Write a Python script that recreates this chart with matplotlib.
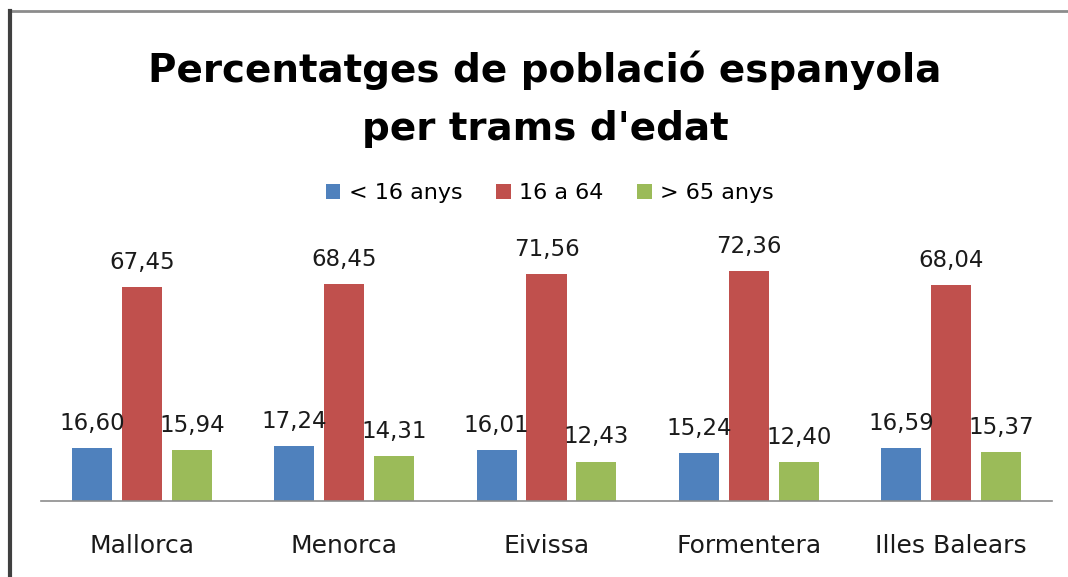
import matplotlib
matplotlib.use("Agg")
import matplotlib.pyplot as plt
import numpy as np

# data
illes = ["Mallorca", "Menorca", "Eivissa", "Formentera", "Illes Balears"]
menys_16 = [16.60, 17.24, 16.01, 15.24, 16.59]
de_16_a_64 = [67.45, 68.45, 71.56, 72.36, 68.04]
mes_65 = [15.94, 14.31, 12.43, 12.40, 15.37]
series_noms = ["< 16 anys", "16 a 64", "> 65 anys"]
colors = ["#4F81BD", "#C0504D", "#9BBB59"]

W, H = 1068, 577
fig = plt.figure(figsize=(W / 100, H / 100), dpi=100)
fig.patch.set_facecolor("white")

ax = fig.add_axes([41 / W, 76 / H, 1011 / W, 254 / H])
x = np.arange(len(illes))
amplada = 0.198
pas = 0.247
series = [menys_16, de_16_a_64, mes_65]
barres = []
for i, (vals, nom, col) in enumerate(zip(series, series_noms, colors)):
    b = ax.bar(x + (i - 1) * pas, vals, width=amplada, color=col, label=nom)
    barres.append(b)
    for xi, v in zip(x + (i - 1) * pas, vals):
        ax.annotate(f"{v:.2f}".replace(".", ","), (xi, v), xytext=(0, 13),
                    textcoords="offset points", ha="center", va="baseline",
                    fontsize=16.5, color="#1a1a1a")

ax.set_xlim(-0.5, len(illes) - 0.5)
ax.set_ylim(0, 80)
ax.set_yticks([])
ax.set_xticks(x)
ax.set_xticklabels(illes, fontsize=18, color="#1a1a1a", va="baseline")
ax.tick_params(axis="x", length=0, pad=37.4)
for s in ["top", "right", "left"]:
    ax.spines[s].set_visible(False)
ax.spines["bottom"].set_color("#8c8c8c")
ax.spines["bottom"].set_linewidth(1.2)

# títol en dues línies
fig.text(545 / W, 1 - 82 / H, "Percentatges de població espanyola",
         ha="center", va="baseline", fontsize=28, fontweight="bold")
fig.text(545 / W, 1 - 140 / H, "per trams d'edat",
         ha="center", va="baseline", fontsize=28, fontweight="bold")

fig.legend(handles=barres, labels=series_noms, loc="center",
           bbox_to_anchor=(550 / W, 1 - 193 / H), ncol=3, frameon=False,
           fontsize=16, handlelength=0.65, handleheight=0.65, columnspacing=1.5,
           handletextpad=0.4)

# marc de la figura: línia superior i esquerra
fig.add_artist(plt.Line2D([9.5 / W, 1], [1 - 11 / H, 1 - 11 / H],
                          transform=fig.transFigure, color="#8c8c8c", lw=2))
fig.add_artist(plt.Line2D([9.5 / W, 9.5 / W], [0, 1 - 11 / H],
                          transform=fig.transFigure, color="#404040", lw=3))

fig.savefig("out.png", dpi=100, facecolor="white")
